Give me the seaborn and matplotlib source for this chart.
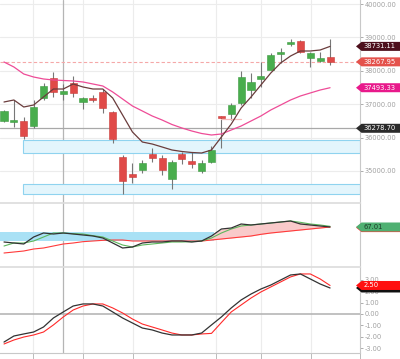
import numpy as np
import matplotlib
matplotlib.use("Agg")
import matplotlib.pyplot as plt
import seaborn as sns
from matplotlib.patches import Polygon
from matplotlib.ticker import FormatStrFormatter

# ---------------- data ----------------
opens = [36497, 36467, 36497, 36347, 37186, 37785, 37306, 37635, 37066, 37186, 37365, 36767,
         35420, 34910, 35030, 35509, 35390, 34761, 35509, 35300, 35000, 35270, 36647, 36707,
         37036, 37425, 37755, 38024, 38503, 38802, 38892, 38383, 38294, 38413]
highs = [36827, 37126, 36617, 37126, 37635, 37964, 37605, 37844, 37216, 37276, 37455, 36797,
         35479, 35240, 35330, 35689, 35479, 35330, 35569, 35569, 35330, 35749, 36660, 37036,
         37994, 37934, 38264, 38533, 38683, 38952, 38920, 38563, 38563, 38952]
lows = [36467, 36318, 35958, 36288, 37126, 37216, 37126, 37216, 36857, 37066, 36737, 35838,
        34311, 34641, 34940, 35270, 34880, 34461, 35210, 35090, 34940, 35240, 35689, 36527,
        36976, 37186, 37515, 38024, 38234, 38743, 38533, 38114, 38264, 38174]
closes = [36797, 36527, 36048, 36917, 37545, 37365, 37395, 37336, 37186, 37126, 36887, 35958,
          34701, 34820, 35240, 35390, 35030, 35270, 35360, 35210, 35240, 35629, 36587, 36976,
          37814, 37665, 37844, 38473, 38563, 38862, 38563, 38533, 38383, 38267.95]
ema_fast = [37066, 37126, 36916, 36976, 37216, 37455, 37455, 37605, 37515, 37455, 37455, 37186,
            36677, 36168, 35868, 35808, 35719, 35629, 35584, 35554, 35539, 35629, 36018, 36407,
            36886, 37216, 37575, 37934, 38234, 38443, 38593, 38593, 38623, 38731.11]
sma_slow = [38264, 38114, 37904, 37814, 37755, 37725, 37710, 37695, 37665, 37605, 37545, 37366,
            37156, 36946, 36797, 36647, 36527, 36392, 36288, 36198, 36123, 36078, 36108, 36228,
            36347, 36497, 36647, 36827, 36976, 37126, 37246, 37336, 37425, 37493.33]
faint_line = [np.nan] * 22 + [36557, 36557, 36557] + [np.nan] * 9

last_close = 38267.95
support_level = 36278.70
zone1 = (35539, 35928)
zone2 = (34311, 34611)

osc_black = [44.5, 43, 41.5, 52, 58, 56.5, 58, 56.5, 55, 53.5, 50.5, 43, 35.5, 37, 43, 44.5,
             44.5, 46, 46, 44.5, 46, 53.5, 64, 65.5, 71.5, 70, 71.5, 73, 74.5, 76, 71.5, 70,
             68.5, 67.01]
osc_green = [38.5, 43, 43, 46, 52, 58, 58, 57, 56.5, 54, 52, 46, 40, 37, 40, 41.5, 43, 44.5,
             44.5, 45, 46, 50.5, 58, 64, 68.5, 70, 71.5, 73, 74.5, 76, 74, 71.5, 70, 68]
osc_red = [28, 29.5, 31, 34, 35.5, 38.5, 41.5, 43, 45, 46, 47, 47.5, 47.5, 46, 46, 46, 46, 46,
           46, 46, 46, 47.5, 49, 50.5, 52, 53.5, 56, 58, 59.5, 61, 62.5, 64, 65.5, 67]
osc_band = (45.3, 59.5)

macd_black = [-2.46, -1.93, -1.75, -1.58, -1.14, -0.35, 0.18, 0.70, 0.88, 0.88, 0.70, 0.18,
              -0.35, -0.79, -1.23, -1.40, -1.67, -1.84, -1.84, -1.84, -1.67, -0.96, -0.26,
              0.53, 1.23, 1.75, 2.19, 2.54, 2.98, 3.42, 3.51, 3.07, 2.63, 2.28]
macd_red = [-2.63, -2.28, -2.02, -1.84, -1.58, -0.96, -0.26, 0.35, 0.70, 0.88, 0.88, 0.53,
            0.09, -0.44, -0.88, -1.14, -1.40, -1.67, -1.84, -1.84, -1.75, -1.70, -0.75, 0.18,
            0.79, 1.40, 1.93, 2.37, 2.81, 3.25, 3.51, 3.51, 3.07, 2.50]

price_ticks = [35000, 36000, 37000, 38000, 39000, 40000]
macd_ticks = [-3, -2, -1, 0, 1, 2, 3]

# ---------------- layout ----------------
sns.set_theme(style="white")
plt.rcParams['font.family'] = ['DejaVu Sans']

W, H = 400, 359
fig = plt.figure(figsize=(W / 100, H / 100), dpi=100)
fig.patch.set_facecolor("white")


def rect(top, bottom):
    return [0, 1 - bottom / H, 360 / W, (bottom - top) / H]


ax1 = fig.add_axes(rect(0, 203))
ax2 = fig.add_axes(rect(203, 267))
ax3 = fig.add_axes(rect(267, 353))

n = len(closes)
idx = np.arange(n)
xlim = (-0.405, 36.03)
vgrid = [2.94, 8.0, 13.06, 21.46, 26.0, 31.07]
cross_x = 5.97

GRID = "#ececec"
AXC = "#c8c8c8"
LBL = "#a0a0a0"

for ax in (ax1, ax2, ax3):
    ax.set_xlim(*xlim)
    ax.set_facecolor("white")
    for s in ("left", "top", "bottom"):
        ax.spines[s].set_visible(False)
    ax.spines["right"].set_color(AXC)
    ax.spines["right"].set_linewidth(0.8)
    ax.yaxis.tick_right()
    ax.tick_params(axis="y", direction="out", length=2, width=0.6, color=LBL,
                   labelsize=4.8, labelcolor=LBL, pad=1.2)
    for gx in vgrid:
        ax.axvline(gx, color=GRID, lw=0.8, zorder=0)
    ax.axvline(cross_x, color="#b5b5b5", lw=0.9, zorder=1)
    ax.set_xticks([])

for ax in (ax2, ax3):
    ax.spines["top"].set_visible(True)
    ax.spines["top"].set_color("#dcdcdc")
    ax.spines["top"].set_linewidth(1.2)

# ---------------- main panel ----------------
ax1.set_ylim(34041.9, 40119.8)
ax1.set_yticks(price_ticks)
ax1.yaxis.set_major_formatter(FormatStrFormatter("%.2f"))
for t in price_ticks:
    ax1.axhline(t, color=GRID, lw=0.8, zorder=0)

for lo, hi in (zone1, zone2):
    ax1.axhspan(lo, hi, xmin=23 / 360, xmax=1, facecolor="#e3f5fc",
                edgecolor="#8fd3ef", lw=0.8, zorder=1)

ax1.axhline(support_level, color="#a8a8a8", lw=0.9, zorder=2)
ax1.axhline(last_close, color="#f5a8a8", lw=0.8, ls=(0, (3, 2)), zorder=2)

o = np.array(opens, float)
c = np.array(closes, float)
up = c >= o
bottoms = np.minimum(o, c)
heights = np.maximum(np.abs(c - o), 45)
colors = np.where(up, "#49ad4d", "#e04a48")
edges = np.where(up, "#3e9a42", "#c93c3a")
ax1.vlines(idx, lows, highs, color="#777777", lw=0.8, zorder=3)
ax1.bar(idx, heights, bottom=bottoms, width=0.72, color=colors, edgecolor=edges,
        linewidth=0.4, zorder=4)

sns.lineplot(x=idx, y=faint_line, ax=ax1, color="#f6b9b9", lw=0.9, zorder=3)
sns.lineplot(x=idx, y=sma_slow, ax=ax1, color="#ee4c97", lw=0.9, zorder=5)
sns.lineplot(x=idx, y=ema_fast, ax=ax1, color="#6a3c3c", lw=0.9, zorder=5)
ax1.set_xlim(*xlim)
ax1.set_ylim(34041.9, 40119.8)

# ---------------- oscillator panel ----------------
ax2.set_ylim(7.0, 103.0)
ax2.set_yticks([])
ax2.fill_between([xlim[0], 21.3], osc_band[0], osc_band[1], color="#a9e1f5", lw=0, zorder=1)
top_line = np.maximum(np.array(osc_black), np.array(osc_green))
ax2.fill_between(idx[20:], top_line[20:], np.array(osc_red)[20:], color="#f9caca", lw=0, zorder=1)
sns.lineplot(x=idx, y=osc_red, ax=ax2, color="#ff3a3a", lw=0.8, zorder=3)
sns.lineplot(x=idx, y=osc_green, ax=ax2, color="#5cb85c", lw=0.8, zorder=3)
sns.lineplot(x=idx, y=osc_black, ax=ax2, color="#333333", lw=0.9, zorder=4)
ax2.set_xlim(*xlim)
ax2.set_ylim(7.0, 103.0)

# ---------------- macd panel ----------------
ax3.set_ylim(-3.42, 4.12)
ax3.set_yticks(macd_ticks)
ax3.yaxis.set_major_formatter(FormatStrFormatter("%.2f"))
ax3.axhline(0, color="#b0b0b0", lw=1.1, zorder=1)
sns.lineplot(x=idx, y=macd_red, ax=ax3, color="#ff2a2a", lw=0.8, zorder=3)
sns.lineplot(x=idx, y=macd_black, ax=ax3, color="#333333", lw=0.9, zorder=4)
ax3.set_xlim(*xlim)
ax3.set_ylim(-3.42, 4.12)
ax3.spines["bottom"].set_visible(True)
ax3.spines["bottom"].set_color(AXC)
ax3.spines["bottom"].set_linewidth(0.8)
ax3.set_xticks(vgrid + [xlim[1] - 0.05])
ax3.set_xticklabels([])
ax3.tick_params(axis="x", direction="out", length=4, width=0.7, color="#bbbbbb", bottom=True)

# ---------------- value badges ----------------
def badge(ax, v, text, fc, tc, dy=0.0):
    yc = ax.transData.transform((0, v))[1] + dy
    h = 9.0
    pts = [(356, yc), (361.5, yc + h / 2), (400, yc + h / 2), (400, yc - h / 2), (361.5, yc - h / 2)]
    poly = Polygon([(x / W, y / H) for x, y in pts], closed=True, transform=fig.transFigure,
                   facecolor=fc, edgecolor="none", zorder=5)
    fig.patches.append(poly)
    if text:
        fig.text(363.5 / W, yc / H, text, ha="left", va="center", fontsize=4.9, color=tc, zorder=6)


badge(ax1, ema_fast[-1], f"{ema_fast[-1]:.2f}", "#4d0f1c", "white")
badge(ax1, last_close, f"{last_close:.2f}", "#e4524c", "white")
badge(ax1, sma_slow[-1], f"{sma_slow[-1]:.2f}", "#e8198b", "white")
badge(ax1, support_level, f"{support_level:.2f}", "#2b2b2b", "white")
badge(ax2, osc_red[-1], "", "#ff3a3a", "white", dy=-0.6)
badge(ax2, osc_black[-1], f"{osc_black[-1]:.2f}", "#4fb072", "#1d3b29")
badge(ax3, macd_black[-1], "", "#111111", "white")
badge(ax3, macd_red[-1], f"{macd_red[-1]:.2f}", "#ff1010", "white")

fig.savefig("out.png", dpi=100, facecolor="white")
